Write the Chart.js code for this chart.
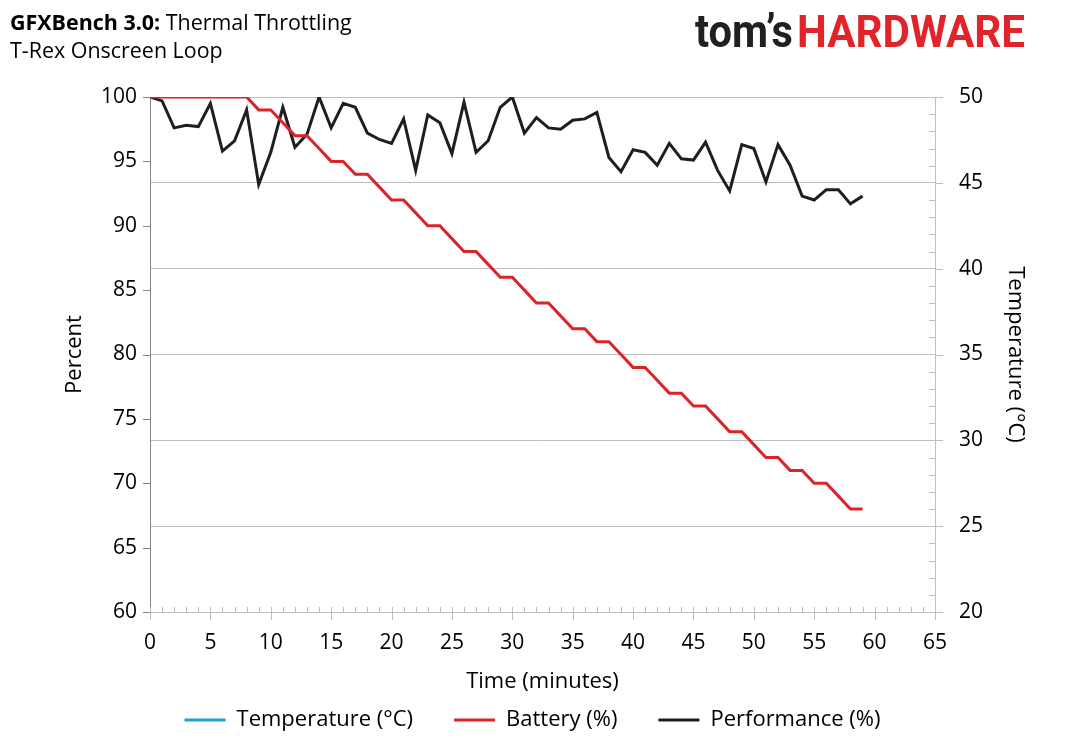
<!DOCTYPE html>
<html>
<head>
<meta charset="utf-8">
<script src="https://cdn.jsdelivr.net/npm/chart.js@4.4.1/dist/chart.umd.min.js"></script>
<style>
html,body{margin:0;padding:0;background:#fff;}
#wrap{width:1065px;height:745px;position:relative;}
</style>
</head>
<body>
<div id="wrap"><canvas id="c"></canvas></div>
<script>
// ---- data ----
const minutes = [0,1,2,3,4,5,6,7,8,9,10,11,12,13,14,15,16,17,18,19,20,21,22,23,24,25,26,27,28,29,30,31,32,33,34,35,36,37,38,39,40,41,42,43,44,45,46,47,48,49,50,51,52,53,54,55,56,57,58,59];
const battery = [100,100,100,100,100,100,100,100,100,99,
                 99,98,97,97,96,95,95,94,94,93,
                 92,92,91,90,90,89,88,88,87,86,
                 86,85,84,84,83,82,82,81,81,80,
                 79,79,78,77,77,76,76,75,74,74,
                 73,72,72,71,71,70,70,69,68,68];
const performance = [100,99.7,97.6,97.8,97.7,99.5,95.8,96.6,99.0,93.2,
                     95.7,99.2,96.1,97.1,100,97.6,99.5,99.2,97.2,96.7,
                     96.4,98.3,94.3,98.6,98.0,95.6,99.6,95.7,96.6,99.2,
                     100,97.2,98.4,97.6,97.5,98.2,98.3,98.8,95.3,94.2,
                     95.9,95.7,94.7,96.4,95.2,95.1,96.5,94.3,92.7,96.3,
                     96.0,93.4,96.3,94.7,92.3,92.0,92.8,92.8,91.7,92.3];
const temperature = [];
const xTicks = [0,5,10,15,20,25,30,35,40,45,50,55,60,65];
const leftTicks = [60,65,70,75,80,85,90,95,100];
const rightTicks = [20,25,30,35,40,45,50];
const seriesNames = ['Temperature (°C)','Battery (%)','Performance (%)'];
const titleBold = 'GFXBench 3.0:';
const titleRest = ' Thermal Throttling';
const subtitle = 'T-Rex Onscreen Loop';

const FONT = "'Open Sans', sans-serif";
Chart.defaults.font.family = FONT;
Chart.defaults.color = '#000';

const toXY = arr => arr.map((v, i) => ({x: minutes[i], y: v}));

const decorPlugin = {
  id: 'decor',
  afterDraw(chart) {
    const {ctx, chartArea: ca, scales} = chart;
    const x = scales.x, y = scales.y, y2 = scales.y2;
    ctx.save();
    ctx.lineWidth = 1;
    // left axis major ticks (outside)
    ctx.strokeStyle = '#868686';
    ctx.beginPath();
    leftTicks.forEach(v => {
      const py = Math.round(y.getPixelForValue(v)) + 0.5;
      ctx.moveTo(ca.left - 7, py); ctx.lineTo(ca.left, py);
    });
    ctx.stroke();
    // x axis ticks: minor every minute (above), major every 5 (crossing)
    ctx.strokeStyle = '#bfbfbf';
    ctx.beginPath();
    for (let m = x.min; m <= x.max; m++) {
      const px = Math.round(x.getPixelForValue(m)) + 0.5;
      const major = xTicks.includes(m);
      ctx.moveTo(px, ca.bottom - 5); ctx.lineTo(px, ca.bottom + (major ? 8 : 0));
    }
    ctx.stroke();
    // right axis ticks: minor every degree (inside), major outside
    ctx.beginPath();
    for (let t = y2.min; t <= y2.max; t++) {
      const py = Math.round(y2.getPixelForValue(t)) + 0.5;
      if (rightTicks.includes(t)) { ctx.moveTo(ca.right, py); ctx.lineTo(ca.right + 8, py); }
      else { ctx.moveTo(ca.right - 6, py); ctx.lineTo(ca.right, py); }
    }
    ctx.stroke();

    // title
    ctx.fillStyle = '#000';
    ctx.textBaseline = 'alphabetic';
    ctx.textAlign = 'left';
    let fs = 20;
    ctx.font = `bold ${fs}px ${FONT}`;
    let wb = ctx.measureText(titleBold).width;
    ctx.font = `${fs}px ${FONT}`;
    let wr = ctx.measureText(titleRest).width;
    fs = fs * 342 / (wb + wr);
    ctx.font = `bold ${fs}px ${FONT}`;
    wb = ctx.measureText(titleBold).width;
    ctx.fillText(titleBold, 10, 29.5);
    ctx.font = `${fs}px ${FONT}`;
    ctx.fillText(titleRest, 10 + wb, 29.5);
    ctx.fillText(subtitle, 10, 58);

    // logo
    const drawFit = (text, color, x0, w, baseline, sy, size) => {
      ctx.font = `bold ${size}px Roboto, ${FONT}`;
      const mw = ctx.measureText(text).width;
      ctx.save();
      ctx.translate(x0, baseline);
      ctx.scale(w / mw, sy);
      ctx.fillStyle = color;
      ctx.fillText(text, 0, 0);
      ctx.restore();
    };
    drawFit('tom\u2019s', '#231f20', 695, 98, 46.5, 1.15, 40);
    drawFit('HARDWARE', '#e1242a', 797, 228, 46.5, 1.1, 40);
    ctx.restore();
  }
};

new Chart(document.getElementById('c'), {
  type: 'line',
  data: {
    datasets: [
      {label: seriesNames[0], data: toXY(temperature), yAxisID: 'y2', borderColor: '#1f9fd5', backgroundColor: '#1f9fd5', borderWidth: 3, pointRadius: 0},
      {label: seriesNames[1], data: toXY(battery), yAxisID: 'y', borderColor: '#dc2328', backgroundColor: '#dc2328', borderWidth: 3, pointRadius: 0, tension: 0},
      {label: seriesNames[2], data: toXY(performance), yAxisID: 'y', borderColor: '#1e1e1e', backgroundColor: '#1e1e1e', borderWidth: 3, pointRadius: 0, tension: 0}
    ]
  },
  options: {
    responsive: true,
    maintainAspectRatio: false,
    animation: false,
    layout: {padding: {top: 97, left: 0, right: 0, bottom: 4}},
    plugins: {
      tooltip: {enabled: false},
      legend: {
        position: 'bottom',
        labels: {
          usePointStyle: true,
          pointStyle: 'line',
          pointStyleWidth: 41,
          padding: 41,
          color: '#000',
          font: {size: 22},
          generateLabels(chart) {
            return chart.data.datasets.map((ds, i) => ({
              text: ds.label, strokeStyle: ds.borderColor, fillStyle: ds.borderColor,
              lineWidth: 3, pointStyle: 'line', hidden: false, datasetIndex: i, lineCap: 'butt', fontColor: '#000'
            }));
          }
        }
      }
    },
    scales: {
      x: {
        type: 'linear', position: 'bottom', min: 0, max: 65,
        afterFit(s) { s.height = 56; },
        afterBuildTicks(s) { s.ticks = xTicks.map(v => ({value: v})); },
        ticks: {autoSkip: false, maxRotation: 0, padding: 18, font: {size: 21}, color: '#000'},
        grid: {display: true, drawOnChartArea: false, drawTicks: false},
        border: {display: true, color: '#bfbfbf', width: 1},
        title: {display: true, text: 'Time (minutes)', font: {size: 22}, color: '#000', padding: {top: 0, bottom: -27}}
      },
      y: {
        type: 'linear', position: 'left', min: 60, max: 100,
        afterFit(s) { s.width = 150; },
        afterBuildTicks(s) { s.ticks = leftTicks.map(v => ({value: v})); },
        ticks: {padding: 13, font: {size: 21}, color: '#000'},
        grid: {display: true, drawOnChartArea: false, drawTicks: false},
        border: {display: true, color: '#868686', width: 1},
        title: {display: true, text: 'Percent', font: {size: 22}, color: '#000', padding: {top: 62, bottom: 0}}
      },
      y2: {
        type: 'linear', position: 'right', min: 20, max: 50,
        afterFit(s) { s.width = 130; },
        afterBuildTicks(s) { s.ticks = rightTicks.map(v => ({value: v})); },
        ticks: {padding: 24, font: {size: 21}, color: '#000'},
        grid: {display: true, drawOnChartArea: true, drawTicks: false, color: '#bfbfbf', lineWidth: 1},
        border: {display: true, color: '#bfbfbf', width: 1},
        title: {display: true, text: 'Temperature (°C)', font: {size: 22}, color: '#000', padding: {top: 37, bottom: 0}}
      }
    }
  },
  plugins: [decorPlugin]
});
</script>
</body>
</html>
